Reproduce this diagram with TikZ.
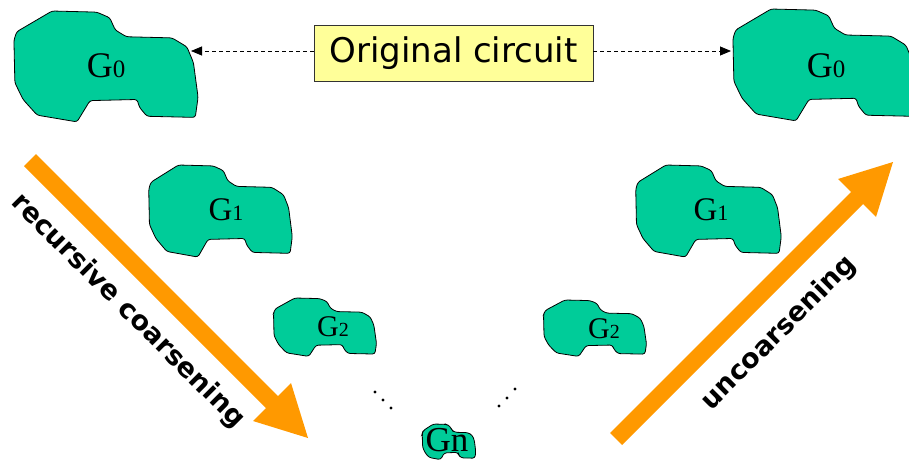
\documentclass[tikz,border=0pt]{standalone}
\usepackage{fontspec}
\setmainfont{DejaVu Sans}
\newfontfamily\tnr{Liberation Serif}
\usetikzlibrary{arrows.meta}
\definecolor{blobgreen}{RGB}{0,204,153}
\definecolor{arrorange}{RGB}{255,153,0}
\definecolor{boxyellow}{RGB}{255,255,153}
\tikzset{
  blob/.style={fill=blobgreen,draw=black,line width=0.8pt,rounded corners=2.5pt},
  glabel/.style={inner sep=0pt,font=\tnr},
  bigarrow/.style={fill=arrorange,draw=none},
  arrlabel/.style={inner sep=0pt,font=\fontsize{27}{27}\selectfont\bfseries},
  dashconn/.style={draw=black,line width=0.8pt,dash pattern=on 4pt off 3pt,-{Stealth[length=11pt,width=9pt,inset=0pt]}},
  dotmark/.style={fill=black,draw=none}
}
\newcommand{\blobshape}[4]{%
  \begin{scope}[shift={(#1,#2)},xscale=#3,yscale=#4]
    \filldraw[blob] (0.02,0.185) -- (0.21,0) -- (0.45,0.01) -- (0.52,0.06) -- (0.55,0.17)
      -- (0.61,0.23) -- (0.855,0.24) -- (0.935,0.32) -- (0.97,0.46) -- (0.995,0.77)
      -- (0.98,0.95) -- (0.72,0.94) -- (0.68,0.86) -- (0.667,0.79) -- (0.414,0.80)
      -- (0.344,0.99) -- (0.13,0.93) -- (0.054,0.79) -- (0.01,0.64) -- (0.005,0.26) -- cycle;
  \end{scope}}
\newcommand{\glab}[3]{{\fontsize{#1}{#1}\selectfont G}{\fontsize{#2}{#2}\selectfont #3}}
\begin{document}
\begin{tikzpicture}[x=1pt,y=-1pt]
\useasboundingbox (0,0) rectangle (909,460);
\begin{scope}
\clip (0,0) rectangle (909,460);
% blobs
\blobshape{13}{11}{186}{112}
\blobshape{732}{9}{186}{113}
\blobshape{148}{165}{145}{93}
\blobshape{635}{165}{147}{93}
\blobshape{273}{298}{104}{59}
\blobshape{543}{300}{104}{57}
\blobshape{422}{424}{54}{36}
\end{scope}
% labels
\node[glabel] (g0l) at (106,66) {\glab{36}{25}{0}};
\node[glabel] (g0r) at (826,66) {\glab{36}{25}{0}};
\node[glabel] (g1l) at (226,210) {\glab{33}{22}{1}};
\node[glabel] (g1r) at (711,210) {\glab{33}{22}{1}};
\node[glabel] (g2l) at (333,327) {\glab{30}{20}{2}};
\node[glabel] (g2r) at (604,329) {\glab{30}{20}{2}};
\node[glabel] (gn) at (447,440) {\fontsize{35}{35}\selectfont Gn};
% original circuit box
\node[draw=black!80,fill=boxyellow,line width=0.8pt,minimum width=279pt,minimum height=56pt,inner sep=0pt,font=\fontsize{34}{34}\selectfont] (oc) at (453.5,53) {Original circuit};
\coordinate (g0lin) at (191,51);
\coordinate (g0rin) at (731,51);
\draw[dashconn] (oc.west |- g0lin) -- (g0lin);
\draw[dashconn] (oc.east |- g0rin) -- (g0rin);
% orange arrows
\fill[bigarrow] (36,154) -- (278,396) -- (291,383) -- (308,438) -- (253,421) -- (266,408) -- (24,166) -- cycle;
\fill[bigarrow] (610,433) -- (851,192) -- (838,179) -- (893,162) -- (876,217) -- (863,204) -- (622,445) -- cycle;
\node[arrlabel,rotate=-45] (rc) at (128,311) {recursive coarsening};
\node[arrlabel,rotate=45] (uc) at (779,333) {uncoarsening};
% dots
\foreach \x/\y in {375/392,383/400,391/408,499/406,507/398,515/389}
  \fill[dotmark] (\x,\y) circle (1.6);
\end{tikzpicture}
\end{document}
